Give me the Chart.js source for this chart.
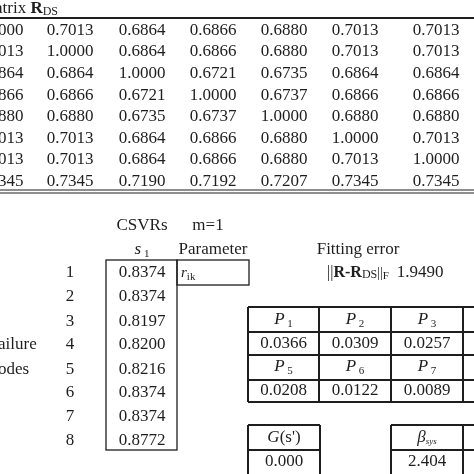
<!DOCTYPE html>
<html><head><meta charset="utf-8">
<script src="https://cdn.jsdelivr.net/npm/chart.js@4"></script>
<style>html,body{margin:0;padding:0;background:#fff}#w{width:474px;height:474px}</style>
</head><body><div id="w"><canvas id="c"></canvas></div>
<script>
const matrixRows = [
 ["1.0000","0.7013","0.6864","0.6866","0.6880","0.7013","0.7013"],
 ["0.7013","1.0000","0.6864","0.6866","0.6880","0.7013","0.7013"],
 ["0.6864","0.6864","1.0000","0.6721","0.6735","0.6864","0.6864"],
 ["0.6866","0.6866","0.6721","1.0000","0.6737","0.6866","0.6866"],
 ["0.6880","0.6880","0.6735","0.6737","1.0000","0.6880","0.6880"],
 ["0.7013","0.7013","0.6864","0.6866","0.6880","1.0000","0.7013"],
 ["0.7013","0.7013","0.6864","0.6866","0.6880","0.7013","1.0000"],
 ["0.7345","0.7345","0.7190","0.7192","0.7207","0.7345","0.7345"]
];
const modes = ["1","2","3","4","5","6","7","8"];
const s1 = ["0.8374","0.8374","0.8197","0.8200","0.8216","0.8374","0.8374","0.8772"];
const pLabels1 = ["1","2","3"], pVals1 = ["0.0366","0.0309","0.0257"];
const pLabels2 = ["5","6","7"], pVals2 = ["0.0208","0.0122","0.0089"];
const fitError = "1.9490";
const gVal = "0.000", betaVal = "2.404";

const SERIF = '"Liberation Serif","DejaVu Serif",serif';
const INK = '#1e1e1e';
const FS = 17;
const tablePlugin = {
 id:'table',
 afterDraw(chart){
  const c = chart.ctx, X = v=>chart.scales.x.getPixelForValue(v), Y = v=>chart.scales.y.getPixelForValue(v);
  c.save(); c.fillStyle=INK; c.strokeStyle=INK; c.textBaseline='middle';
  const txt=(t,x,y,size=FS,align='center',style='')=>{c.font=style+' '+size+'px '+SERIF;c.textAlign=align;c.fillText(t,X(x),Y(y));};
  const line=(x1,y1,x2,y2,w=1.3)=>{c.lineWidth=w;c.beginPath();c.moveTo(X(x1),Y(y1));c.lineTo(X(x2),Y(y2));c.stroke();};
  const rect=(x1,y1,x2,y2,w=1.3)=>{c.lineWidth=w;c.strokeRect(X(x1),Y(y1),X(x2)-X(x1),Y(y2)-Y(y1));};
  // sequence of runs: [text, fontspec, dy]
  const runs=(parts,x,y,align='center')=>{
    let tot=0; parts.forEach(p=>{c.font=p[1]+'px '+SERIF; tot+=c.measureText(p[0]).width;});
    let x0 = align==='center'? X(x)-tot/2 : X(x); c.textAlign='left';
    parts.forEach(p=>{c.font=p[1]+'px '+SERIF; c.fillText(p[0],x0,Y(y)+(p[2]||0)); x0+=c.measureText(p[0]).width;});
  };
  runs([['atrix ',FS],['R','bold '+FS],['DS','12',3]],-5,9,'left');
  line(0,18,474,18,2.2);
  const colX=[0,70,142,213,284,355,436], rowY=[31,52,74,96,117,139,160,182];
  matrixRows.forEach((r,i)=>r.forEach((v,j)=>txt(v,colX[j],rowY[i])));
  line(0,190,474,190,1.2); line(0,193,474,193,1.2);
  txt('CSVRs',142,226); txt('m=1',208,226);
  runs([['s','italic '+FS],[' 1','11',4]],142,250);
  txt('Parameter',213,250);
  rect(106,260,177,450); rect(177,260,249,285);
  runs([['r','italic 15'],['ik','11',4]],181,273,'left');
  const mY=[273,297,322,345,370,393,417,441];
  modes.forEach((m,i)=>{txt(m,70,mY[i]); txt(s1[i],142,mY[i]);});
  txt('ailure',-2,345,FS,'left'); txt('odes',-2,370,FS,'left');
  txt('Fitting error',358,250);
  runs([['||','16'],['R-R','bold 16'],['DS','12',2],['||','14'],['F','11',3]],358,273);
  txt(fitError,420,273);
  const px=[248,319,391,463,500], py=[307,332,355,380,402];
  py.forEach(y=>line(248,y,480,y,2)); px.forEach(x=>line(x,307,x,402,2));
  for(let j=0;j<3;j++){
    const cx=(px[j]+px[j+1])/2;
    runs([['P','italic '+FS],[' '+pLabels1[j],'11',4]],cx,320); txt(pVals1[j],cx,344);
    runs([['P','italic '+FS],[' '+pLabels2[j],'11',4]],cx,367); txt(pVals2[j],cx,391);
  }
  line(248,425,320,425,2); line(248,450,320,450,2); line(248,425,248,480,2); line(320,425,320,480,2);
  runs([['G','italic '+FS],["(s')",''+FS]],284,438);
  txt(gVal,284,462);
  line(391,425,480,425,2); line(391,450,480,450,2); line(391,425,391,480,2); line(463,425,463,480,2);
  runs([['β','italic '+FS],['sys','italic 9',4]],427,438); txt(betaVal,427,462);
  c.restore();
 }
};
new Chart(document.getElementById('c'),{
 type:'scatter',
 data:{datasets:[{data:[],pointRadius:0}]},
 options:{responsive:true,maintainAspectRatio:false,animation:false,
  layout:{padding:0},
  plugins:{legend:{display:false},tooltip:{enabled:false}},
  scales:{x:{type:'linear',min:0,max:474,display:false},y:{type:'linear',min:0,max:474,reverse:true,display:false}}},
 plugins:[tablePlugin]
});
</script></body></html>
